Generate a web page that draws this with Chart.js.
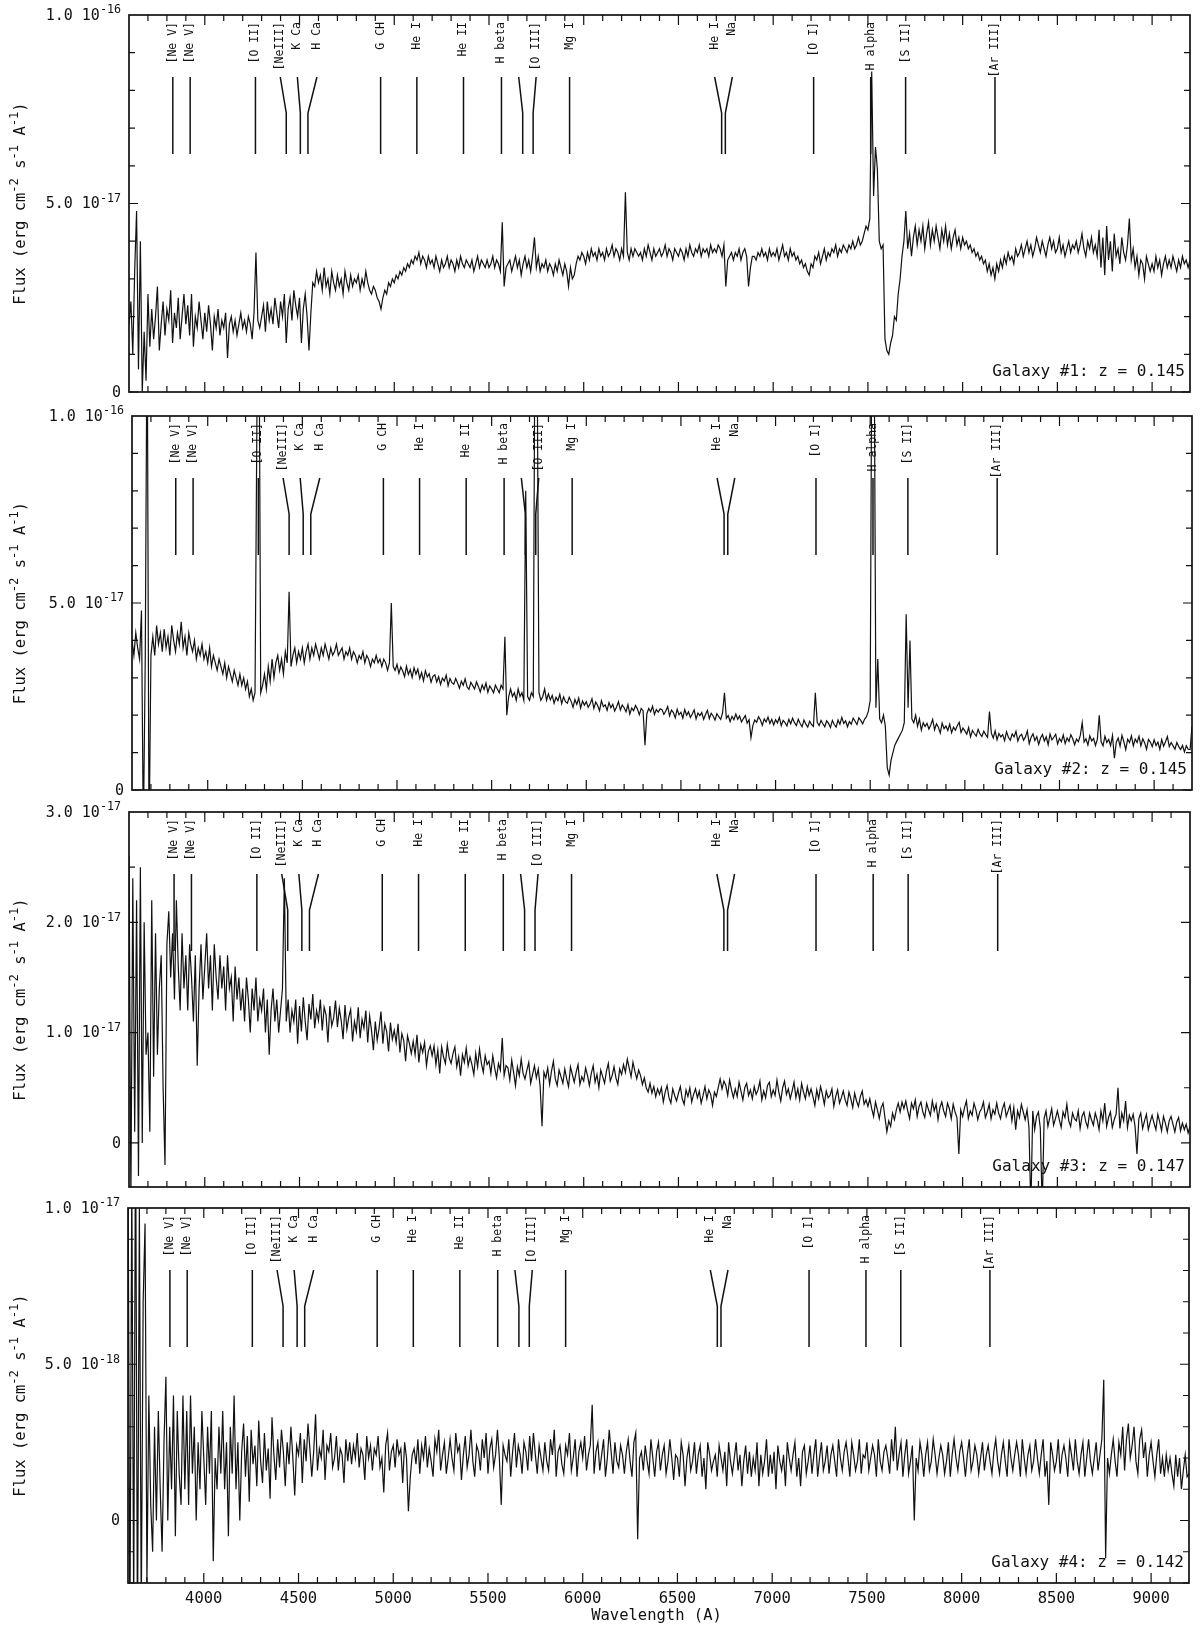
<!DOCTYPE html>
<html>
<head>
<meta charset="utf-8">
<title>Galaxy spectra</title>
<script src="https://cdn.jsdelivr.net/npm/chart.js@4.4.1/dist/chart.umd.min.js"></script>
<style>
    body { margin: 0; background: #fff; }
    #wrap { position: relative; width: 1200px; height: 1628px; }
    #wrap canvas { position: absolute; left: 0; top: 0; }
</style>
</head>
<body>
<div id="wrap"></div>
<script>
// wavelength sampling of the spectra (Angstrom)
const WAVE_START = 3600
const WAVE_STEP = 10

// flux values, in units of 1e-18 erg cm^-2 s^-1 A^-1, one row = 100 A
const FLUX_G1 = [
    18, 24, 10, 32, 48, 6, 40, 0, 16, 3,          // 3600
    26, 12, 22, 14, 20, 28, 11, 18, 24, 15,
    22, 19, 27, 13, 21, 17, 25, 14, 20, 26,
    18, 23, 15, 26, 12, 20, 17, 24, 19, 14,
    21, 16, 23, 18, 11, 20, 17, 22, 15, 19,       // 4000
    17, 21, 9, 18, 20, 16, 19, 15, 18, 21,
    17, 19, 16, 20, 18, 14, 21, 37, 19, 17,
    20, 23, 16, 24, 19, 22, 18, 25, 21, 17,
    24, 20, 26, 13, 22, 25, 19, 27, 23, 20,
    25, 13, 22, 26, 20, 11, 21, 29, 28, 32,       // 4500
    29, 31, 27, 33, 28, 30, 26, 32, 29, 27,
    31, 28, 30, 26, 32, 29, 27, 31, 28, 30,
    29, 31, 27, 30, 28, 32, 29, 27, 26, 28,
    27, 25, 24, 22, 25, 27, 26, 29, 28, 30,
    29, 31, 30, 32, 31, 33, 32, 34, 33, 35,       // 5000
    34, 36, 35, 37, 34, 36, 35, 33, 36, 34,
    35, 33, 36, 34, 32, 35, 33, 34, 36, 33,
    35, 34, 32, 35, 33, 36, 34, 33, 35, 34,
    33, 35, 32, 34, 36, 33, 35, 34, 33, 35,
    33, 34, 36, 33, 35, 34, 32, 45, 28, 33,       // 5500
    34, 35, 32, 34, 36, 33, 35, 31, 34, 36,
    33, 35, 32, 36, 41, 33, 36, 32, 34, 33,
    35, 32, 34, 33, 31, 34, 32, 35, 33, 31,
    34, 32, 28, 33, 30, 31, 34, 36, 35, 37,
    36, 34, 37, 35, 38, 36, 37, 35, 38, 36,       // 6000
    37, 35, 38, 36, 37, 39, 36, 38, 37, 35,
    38, 36, 53, 37, 35, 38, 36, 38, 37, 36,
    37, 35, 38, 36, 39, 37, 35, 38, 36, 37,
    38, 36, 37, 39, 36, 38, 37, 35, 38, 37,
    36, 38, 37, 35, 38, 36, 39, 37, 36, 38,       // 6500
    37, 39, 36, 38, 37, 38, 36, 39, 37, 38,
    37, 39, 38, 36, 39, 28, 35, 36, 37, 35,
    37, 36, 38, 35, 37, 38, 36, 28, 33, 36,
    36, 35, 37, 36, 38, 36, 37, 35, 38, 36,
    37, 36, 38, 35, 37, 39, 36, 37, 35, 38,       // 7000
    36, 37, 35, 36, 34, 35, 33, 34, 32, 31,
    34, 33, 36, 35, 37, 34, 36, 38, 35, 37,
    36, 38, 37, 39, 36, 38, 37, 39, 38, 37,
    39, 38, 40, 38, 39, 41, 39, 40, 42, 44,
    43, 46, 85, 52, 65, 59, 40, 38, 39, 14,       // 7500
    11, 10, 13, 15, 20, 19, 26, 30, 36, 40,
    48, 38, 42, 36, 41, 44, 39, 43, 40, 44,
    38, 42, 45, 39, 43, 40, 44, 41, 38, 43,
    40, 44, 39, 42, 38, 41, 43, 39, 41, 38,
    41, 39, 40, 38, 39, 37, 38, 36, 37, 35,       // 8000
    36, 34, 35, 32, 34, 31, 33, 30, 34, 32,
    35, 33, 36, 34, 37, 35, 36, 34, 38, 36,
    37, 39, 36, 38, 40, 37, 39, 36, 38, 41,
    39, 37, 40, 38, 36, 39, 41, 38, 40, 37,
    38, 41, 37, 39, 36, 38, 40, 37, 39, 38,       // 8500
    40, 37, 39, 42, 38, 36, 40, 38, 41, 37,
    39, 36, 43, 33, 41, 31, 44, 35, 40, 32,
    42, 36, 38, 34, 41, 37, 35, 39, 46, 35,
    38, 33, 36, 31, 35, 34, 30, 36, 34, 32,
    34, 32, 36, 33, 35, 31, 34, 36, 33, 35,       // 9000
    33, 36, 34, 32, 35, 33, 36, 34, 35, 33,
    35
]

const FLUX_G2 = [
    40, 36, 42, 38, 35, 48, -12, 35, 130, -15,    // 3600
    36, 41, 36, 44, 39, 42, 37, 43, 38, 41,
    36, 44, 40, 37, 42, 39, 45, 38, 41, 36,
    42, 39, 37, 40, 35, 38, 36, 39, 35, 37,
    34, 38, 33, 36, 34, 32, 35, 33, 31, 34,       // 4000
    30, 33, 31, 29, 32, 30, 28, 31, 28, 30,
    27, 29, 25, 27, 24, 26, 100, 140, 26, 28,
    31, 27, 33, 29, 35, 30, 34, 36, 32, 35,
    31, 37, 34, 53, 33, 36, 38, 34, 37, 35,
    38, 34, 37, 39, 35, 38, 36, 39, 37, 35,       // 4500
    38, 36, 39, 37, 35, 38, 36, 37, 39, 36,
    37, 38, 35, 37, 36, 38, 35, 37, 36, 34,
    36, 35, 37, 34, 36, 35, 33, 35, 34, 36,
    34, 35, 33, 35, 34, 32, 34, 50, 33, 32,
    33.6, 31.2, 32.9, 31.8, 30.3, 33.1, 30.9, 32.2, 30.1, 32.7,   // 5000
    31.0, 32.3, 29.8, 31.4, 29.2, 31.9, 30.2, 31.1, 28.8, 30.4,
    30.8, 28.9, 30.3, 28.2, 29.9, 29.1, 30.7, 27.9, 29.8, 28.7,
    28.3, 29.8, 28.6, 27.2, 29.1, 28.0, 29.7, 27.6, 26.9, 28.8,
    27.9, 27.0, 28.9, 27.7, 26.2, 28.1, 26.9, 28.6, 26.1, 27.8,
    27, 26, 28, 27, 26, 28, 27, 41, 20, 25,       // 5500
    27, 25, 26, 24, 27, 25, 26, 24, 80, 25,
    24, 26, 25, 140, 120, 26, 24, 25, 27, 24,
    25.7, 24.1, 25.3, 23.2, 24.8, 23.9, 25.6, 23.1, 24.9, 23.6,
    23.2, 24.8, 23.7, 22.1, 24.2, 22.9, 24.6, 21.9, 23.8, 22.7,
    23.6, 22.1, 23.0, 24.4, 21.8, 23.5, 22.6, 21.2, 23.9, 22.3,   // 6000
    22.8, 21.3, 23.4, 22.0, 22.9, 21.1, 22.2, 23.6, 21.4, 22.7,
    22.0, 20.9, 22.8, 20.3, 21.9, 21.2, 22.6, 21.7, 20.1, 21.8,
    21.2, 12.0, 20.4, 21.8, 20.9, 22.4, 20.2, 21.5, 20.8, 21.7,
    21.5, 20.2, 21.1, 22.3, 19.8, 21.4, 20.7, 19.3, 21.6, 20.1,
    20.8, 19.2, 21.5, 20.0, 20.9, 19.4, 20.3, 21.4, 19.0, 20.6,   // 6500
    19.9, 20.7, 18.9, 20.2, 21.3, 19.1, 20.5, 19.8, 18.7, 20.4,
    19.6, 18.9, 20.6, 26.0, 19.2, 19.9, 18.3, 19.7, 18.8, 20.3,
    18.9, 19.8, 18.2, 19.1, 19.9, 17.9, 18.8, 14.0, 17.2, 18.7,
    18.1, 19.6, 18.7, 17.3, 19.0, 18.2, 19.5, 17.8, 18.9, 17.4,
    18.8, 17.9, 19.4, 17.2, 18.6, 18.0, 17.1, 18.9, 17.7, 19.2,   // 7000
    18.0, 17.2, 18.9, 17.8, 16.9, 18.7, 17.6, 16.8, 18.4, 17.5,
    17.0, 26.0, 18.1, 17.2, 18.6, 17.7, 16.9, 18.5, 17.8, 16.7,
    18.6, 17.5, 16.8, 18.7, 17.6, 19.4, 17.8, 18.5, 16.9, 18.3,
    17.6, 19.2, 18.4, 17.5, 19.3, 18.6, 17.7, 18.9, 19.6, 21.0,
    24, 140, 130, 22, 35, 19, 18, 20, 17, 6,      // 7500
    4, 8, 10, 12, 13, 14, 15, 16, 18, 47,
    22, 40, 19, 18, 20, 17, 19, 16, 18, 17,
    17.8, 16.3, 17.4, 18.9, 16.1, 17.7, 16.8, 15.2, 17.9, 16.4,
    17.1, 15.9, 17.6, 15.3, 16.8, 16.0, 17.2, 18.1, 15.4, 16.6,
    15.8, 14.9, 16.7, 14.2, 15.9, 15.1, 14.4, 16.2, 15.0, 14.3,   // 8000
    15.7, 14.8, 14.1, 21.0, 15.2, 13.9, 15.8, 13.4, 15.1, 14.2,
    14.8, 13.2, 15.6, 14.1, 13.3, 15.0, 14.2, 15.7, 13.1, 14.4,
    14.9, 13.3, 14.2, 15.8, 12.4, 14.1, 15.0, 13.2, 14.3, 12.2,
    13.9, 14.8, 13.1, 14.2, 12.1, 15.0, 13.4, 14.1, 14.9, 12.3,
    13.8, 12.9, 14.7, 12.4, 13.9, 13.0, 14.8, 13.7, 12.1, 13.6,   // 8500
    12.9, 14.6, 18.0, 12.8, 13.7, 12.0, 14.5, 13.1, 13.8, 11.9,
    13.6, 20.0, 12.9, 11.8, 14.4, 12.7, 13.5, 11.9, 14.6, 8.5,
    12.8, 13.9, 11.7, 14.6, 12.9, 10.8, 13.6, 12.7, 14.5, 11.8,
    13.6, 12.7, 14.4, 11.8, 13.7, 12.6, 10.9, 13.5, 12.8, 11.6,
    13.4, 11.9, 12.8, 10.9, 13.5, 11.7, 12.9, 14.3, 11.6, 12.7,   // 9000
    11.8, 10.9, 12.7, 11.6, 10.8, 11.9, 10.2, 11.8, 10.9, 10.8,
    17
]

const FLUX_G3 = [
    26, -5, 24, 1, 22, -3, 25, 0, 20, 8,          // 3600
    10, 1, 22, 6, 19, 8, 14, 17, 5, -2,
    18, 21, 15, 19, 13, 22, 16, 12, 19, 14,
    17, 12, 18, 15, 11, 17, 7, 14, 18, 13,
    16, 19, 14, 17, 12, 18, 15, 13, 17, 14,       // 4000
    16, 12, 17, 14, 15, 11, 16, 13, 15, 12,
    14, 11, 15, 13, 10, 14, 12, 15, 11, 13,
    12, 14, 10, 13, 8, 12, 14, 11, 13, 10,
    12, 14, 24, 11, 13, 10, 12, 11, 13, 9,
    12.4, 10.1, 13.2, 11.0, 9.3, 12.6, 11.2, 13.5, 10.4, 12.0,   // 4500
    11.1, 13.0, 10.2, 12.3, 11.6, 9.1, 12.4, 10.6, 11.3, 12.9,
    10.5, 12.2, 11.1, 9.4, 12.5, 10.3, 11.4, 12.1, 9.2, 11.0,
    10.1, 12.3, 9.5, 11.2, 10.4, 12.0, 9.1, 11.5, 10.2, 8.4,
    11.0, 9.3, 10.4, 11.9, 9.0, 10.8, 10.1, 8.3, 10.9, 9.4,
    10.2, 9.1, 10.8, 8.2, 9.9, 9.3, 7.4, 9.7, 9.0, 8.1,          // 5000
    9.2, 8.0, 9.8, 7.3, 8.9, 8.2, 9.1, 7.0, 8.3, 8.8,
    7.9, 8.8, 7.1, 8.4, 6.3, 8.7, 7.8, 7.2, 8.9, 7.7,
    7.2, 8.1, 8.7, 6.9, 7.8, 6.1, 8.0, 7.3, 8.6, 7.0,
    7.8, 7.1, 6.2, 8.1, 6.9, 8.5, 7.2, 6.4, 7.9, 7.1,
    7.4, 6.3, 7.9, 6.8, 5.9, 7.2, 6.6, 9.5, 6.1, 7.0,            // 5500
    6.8, 5.7, 7.5, 6.4, 5.2, 6.9, 6.1, 7.6, 6.3, 5.8,
    6.6, 7.3, 5.4, 6.2, 7.0, 5.9, 6.7, 5.1, 1.5, 6.4,
    5.9, 6.8, 5.3, 6.5, 7.4, 5.8, 5.2, 6.6, 6.0, 5.4,
    6.7, 5.8, 5.1, 6.9, 6.2, 5.5, 6.4, 7.1, 5.3, 6.0,
    5.6, 6.8, 6.1, 5.2, 6.3, 7.0, 5.5, 6.2, 5.0, 6.6,            // 6000
    6.0, 5.4, 6.5, 7.2, 5.6, 6.1, 6.9, 5.9, 5.3, 6.7,
    6.2, 7.1, 6.4, 7.6, 6.8, 6.0, 7.3, 6.5, 5.8, 6.6,
    6.1, 5.3, 5.9, 5.0, 4.6, 5.4, 4.5, 5.1, 4.2, 4.9,
    4.4, 5.0, 3.7, 4.6, 5.2, 4.1, 3.6, 4.9, 4.3, 3.8,
    4.5, 5.1, 4.0, 3.5, 4.8, 4.2, 5.0, 3.7, 4.4, 4.9,            // 6500
    4.1, 4.7, 3.6, 4.3, 5.1, 4.0, 4.8, 4.4, 3.4, 4.6,
    4.2, 5.0, 5.8, 4.9, 5.6, 5.2, 4.3, 5.7, 4.8, 4.1,
    4.9, 4.2, 5.5, 4.7, 3.9, 5.0, 5.4, 4.3, 4.8, 4.0,
    5.1, 4.4, 4.8, 5.6, 3.9, 4.7, 4.1, 5.2, 5.5, 4.2,
    4.8, 4.3, 5.7, 4.6, 3.8, 5.0, 5.6, 4.4, 4.9, 4.0,            // 7000
    4.7, 5.5, 4.1, 4.9, 3.9, 5.4, 4.6, 4.0, 5.1, 4.3,
    4.9, 4.2, 3.4, 4.8, 4.0, 5.1, 4.4, 3.5, 4.7, 4.1,
    4.3, 4.9, 3.3, 4.2, 4.8, 3.6, 4.1, 4.7, 3.9, 3.4,
    4.6, 4.0, 3.2, 4.5, 3.8, 3.3, 4.2, 4.7, 3.5, 3.9,
    3.3, 4.0, 3.1, 2.4, 3.7, 3.0, 2.2, 3.2, 3.6, 2.3,            // 7500
    1.0, 2.0, 1.5, 2.7, 2.1, 3.0, 3.6, 2.8, 3.7, 3.1,
    3.8, 2.9, 2.2, 3.6, 3.1, 3.9, 2.4, 3.3, 3.7, 2.8,
    2.3, 3.6, 3.0, 2.5, 3.8, 2.9, 3.5, 2.1, 3.2, 3.7,
    2.9, 2.4, 3.6, 3.1, 2.2, 3.5, 2.8, 2.3, -1.0, 3.0,
    2.4, 3.2, 3.8, 2.2, 2.9, 2.5, 3.6, 3.0, 2.1, 2.8,            // 8000
    3.1, 3.7, 2.3, 2.8, 3.5, 2.2, 3.0, 2.6, 3.6, 2.7,
    2.2, 3.1, 3.6, 2.4, 2.9, 3.4, 2.0, 3.2, 1.2, 2.9,
    2.3, 3.5, 2.8, 2.1, 3.0, 1.4, -6, 2.9, 1.2, 2.4,
    2.8, 1.3, -6, 2.2, 2.9, 1.5, 2.3, 3.1, 1.6, 2.2,
    2.9, 2.1, 1.4, 2.8, 2.3, 3.5, 2.0, 1.5, 2.7, 2.2,            // 8500
    2.0, 2.9, 1.3, 2.4, 2.8, 1.9, 1.4, 2.7, 2.1, 1.6,
    2.7, 2.1, 1.2, 2.9, 2.0, 3.6, 1.5, 2.3, 2.8, 1.4,
    2.1, 2.6, 5.0, 1.3, 2.7, 2.0, 3.8, 1.4, 2.5, 2.0,
    2.6, 1.5, -1.0, 2.2, 2.7, 1.3, 2.0, 2.6, 1.2, 1.9,
    2.5, 1.8, 1.2, 2.6, 1.9, 1.1, 2.4, 1.8, 1.0, 2.0,            // 9000
    2.4, 1.7, 1.0, 1.9, 2.3, 1.1, 1.8, 1.2, 1.7, 0.9,
    1.5
]

const FLUX_G4 = [
    12, -4, 11, -3, 13, -4, 10, -3, 7, 9.5,       // 3600
    -2, 4, 0.5, -1, 3, 0, 3.5, 1, -1, 2.5,
    4.6, 0, 3, 1, 4, -0.5, 3.5, 1.5, 0.5, 4,
    1, 3.5, 0.5, 4, 1.5, 3, 0, 2.5, 1, 3.5,
    2, 0.5, 3, 1.5, 3.5, -1.3, 2, 1, 3, 1.5,      // 4000
    3.5, 1, 2.5, -0.5, 3, 1.5, 4, 1, 2.5, 0,
    2.2, 3.1, 1.4, 2.7, 0.6, 2.9, 1.8, 2.4, 1.1, 3.2,
    1.9, 1.2, 2.8, 1.6, 2.3, 0.7, 3.3, 2.1, 1.3, 2.6,
    1.7, 2.9, 2.2, 1.1, 2.5, 1.8, 3.0, 2.0, 0.8, 2.4,
    2.1, 2.8, 1.2, 2.6, 1.9, 3.1, 2.3, 1.4, 2.2, 3.4,   // 4500
    1.6, 2.3, 2.0, 2.9, 1.3, 2.4, 2.2, 2.8, 1.7, 2.0,
    2.7, 1.6, 2.3, 2.1, 1.2, 2.6, 1.9, 2.5, 1.8, 2.4,
    2.0, 2.8, 1.7, 2.3, 2.1, 1.3, 2.7, 2.0, 2.4, 1.6,
    2.3, 2.1, 2.7, 1.7, 2.0, 0.9, 2.4, 2.8, 1.6, 2.2,
    2.4, 1.7, 2.6, 2.1, 2.3, 1.2, 2.5, 2.0, 0.3, 1.4,   // 5000
    2.1, 2.3, 1.8, 2.6, 1.5, 2.4, 2.0, 2.7, 1.7, 2.3,
    1.9, 1.4, 2.6, 2.2, 2.9, 1.6, 2.1, 2.5, 1.5, 2.0,
    2.6, 2.0, 1.6, 2.8, 2.2, 2.4, 1.3, 2.1, 2.7, 1.7,
    2.1, 2.9, 1.9, 1.4, 2.4, 2.2, 1.6, 2.6, 2.0, 2.8,
    1.5, 2.3, 2.6, 1.7, 2.1, 2.9, 2.0, 0.5, 2.4, 2.1,   // 5500
    1.9, 2.6, 1.4, 2.2, 2.8, 1.7, 2.4, 2.1, 1.5, 2.5,
    2.2, 1.6, 2.7, 1.9, 2.8, 2.1, 1.5, 2.4, 2.0, 1.6,
    2.5, 1.9, 1.6, 2.6, 2.1, 2.9, 1.4, 2.2, 2.4, 1.8,
    1.5, 2.4, 2.1, 2.8, 1.6, 2.0, 2.6, 1.4, 2.2, 2.5,
    2.0, 2.7, 1.6, 2.1, 2.4, 3.7, 1.5, 2.2, 2.5, 1.6,   // 6000
    2.1, 2.6, 1.4, 2.0, 2.9, 2.2, 1.5, 2.5, 1.9, 1.7,
    2.4, 2.1, 1.5, 2.2, 2.6, 1.9, 1.4, 2.5, 2.8, -0.6,
    2.0, 2.2, 1.6, 2.4, 1.9, 1.5, 2.6, 2.0, 1.4, 2.2,
    2.5, 1.6, 2.1, 2.4, 1.5, 1.9, 2.6, 2.0, 1.3, 2.1,
    2.0, 1.4, 2.5, 2.1, 1.1, 2.0, 2.4, 1.6, 1.9, 2.5,   // 6500
    1.5, 2.1, 2.4, 1.4, 2.0, 1.0, 2.5, 2.1, 1.6, 1.9,
    2.1, 1.4, 2.4, 2.0, 1.6, 2.2, 1.1, 2.5, 1.9, 1.5,
    2.0, 2.5, 1.6, 2.1, 1.1, 1.9, 2.4, 1.5, 2.2, 1.4,
    2.0, 1.6, 2.5, 1.1, 2.1, 1.5, 1.9, 2.6, 1.4, 2.1,
    1.5, 2.2, 1.0, 2.4, 1.9, 1.6, 2.1, 1.1, 2.5, 2.0,   // 7000
    1.6, 2.1, 2.5, 1.4, 2.0, 1.1, 2.2, 2.4, 1.5, 1.9,
    2.4, 1.5, 2.1, 2.6, 1.4, 2.0, 2.5, 1.6, 1.9, 2.4,
    1.5, 2.1, 2.4, 1.9, 1.4, 2.6, 2.0, 1.6, 2.2, 2.5,
    2.0, 1.4, 2.5, 2.1, 1.6, 1.9, 2.6, 1.5, 2.1, 2.0,
    2.5, 1.6, 2.0, 2.4, 2.1, 1.4, 2.6, 1.9, 1.6, 2.2,   // 7500
    2.4, 2.0, 1.5, 2.6, 1.9, 3.0, 1.6, 2.1, 2.5, 1.4,
    2.1, 2.6, 1.5, 1.9, 2.4, 0.0, 2.0, 1.6, 2.5, 2.1,
    1.4, 2.1, 2.5, 1.6, 1.9, 2.6, 2.1, 1.5, 2.0, 2.4,
    2.1, 1.5, 1.9, 2.5, 1.4, 2.1, 2.6, 2.0, 1.6, 2.2,
    2.5, 2.0, 1.4, 2.1, 2.6, 1.6, 1.9, 2.4, 2.1, 1.5,   // 8000
    2.0, 2.5, 1.6, 2.1, 2.4, 1.9, 1.5, 2.2, 2.6, 1.9,
    1.5, 2.1, 2.5, 1.9, 1.4, 2.6, 2.0, 1.6, 2.1, 2.5,
    2.1, 1.4, 2.6, 2.0, 1.5, 2.1, 2.4, 1.6, 1.9, 2.6,
    2.0, 1.5, 2.1, 2.6, 1.4, 1.9, 0.5, 2.5, 2.1, 1.6,
    1.9, 2.6, 1.5, 2.1, 2.4, 2.0, 1.4, 2.5, 2.1, 1.6,   // 8500
    2.6, 1.9, 1.5, 2.1, 2.5, 1.4, 2.0, 2.6, 1.9, 1.5,
    2.0, 2.5, 1.6, 2.1, 2.6, 4.5, -1.2, 2.0, 1.5, 2.1,
    2.6, 1.9, 1.4, 2.5, 2.1, 3.0, 1.6, 2.6, 3.1, 2.0,
    2.4, 3.0, 1.9, 1.5, 2.6, 2.9, 2.0, 2.5, 1.4, 2.1,
    2.5, 1.9, 1.4, 2.1, 2.6, 1.5, 2.0, 1.4, 2.1, 1.6,   // 9000
    2.0, 1.5, 1.1, 2.1, 1.4, 2.0, 1.0, 1.6, 2.1, 1.4,
    1.5
]

// line identifications: rest wavelengths and names
const REST_WAVES = [3346, 3426, 3727, 3869, 3934, 3969, 4304, 4471, 4686, 4861,
                    4959, 5007, 5175, 5876, 5893, 6300, 6563, 6724, 7136]
const LINE_NAMES = ['[Ne V]', '[Ne V]', '[O II]', '[NeIII]', 'K Ca', 'H Ca', 'G CH', 'He I', 'He II', 'H beta',
                    '', '[O III]', 'Mg I', 'He I', 'Na', '[O I]', 'H alpha', '[S II]', '[Ar III]']
const LABEL_SHIFT = [0, 0, 0, -6, -3, 9, 0, 0, 0, 0, -4, 3, 0, -7, 7, 0, 0, 0, 0]

const REDSHIFTS = [0.145, 0.145, 0.147, 0.142]
const GALAXY_LABELS = ['Galaxy #1: z = 0.145', 'Galaxy #2: z = 0.145', 'Galaxy #3: z = 0.147', 'Galaxy #4: z = 0.142']

// axis ticks
const X_MIN = 3600, X_MAX = 9200
const X_TICKS = [4000, 4500, 5000, 5500, 6000, 6500, 7000, 7500, 8000, 8500, 9000]
const Y_TICKS_BRIGHT = [0, 50, 100]
const Y_LABELS_BRIGHT = ['0', '5.0 10^-17', '1.0 10^-16']
const Y_TICKS_G3 = [0, 10, 20, 30]
const Y_LABELS_G3 = ['0', '1.0 10^-17', '2.0 10^-17', '3.0 10^-17']
const Y_TICKS_G4 = [0, 5, 10]
const Y_LABELS_G4 = ['0', '5.0 10^-18', '1.0 10^-17']

const Y_TITLE = 'Flux (erg cm^-2^ s^-1^ A^-1^)'
const X_TITLE = 'Wavelength (A)'

const FONT = '"DejaVu Sans Mono", "Liberation Mono", monospace'
const INK = '#111'

const panels = [
    { flux: FLUX_G1, box: [129, 15, 1190, 392], yMin: 0, yMax: 100, minor: 10, major: 50, ticks: Y_TICKS_BRIGHT, labels: Y_LABELS_BRIGHT },
    { flux: FLUX_G2, box: [132, 416, 1192, 790], yMin: 0, yMax: 100, minor: 10, major: 50, ticks: Y_TICKS_BRIGHT, labels: Y_LABELS_BRIGHT },
    { flux: FLUX_G3, box: [129, 812, 1190, 1187], yMin: -4, yMax: 30, minor: 5, major: 10, ticks: Y_TICKS_G3, labels: Y_LABELS_G3 },
    { flux: FLUX_G4, box: [128, 1208, 1189, 1583], yMin: -2, yMax: 10, minor: 1, major: 5, ticks: Y_TICKS_G4, labels: Y_LABELS_G4 }
]

// text with ^superscript^ parts
function drawSup(ctx, text, x, y, align, size) {
    const parts = text.split('^')
    const supSize = size * 0.78
    const widths = parts.map((t, i) => {
        ctx.font = (i % 2 ? supSize : size) + 'px ' + FONT
        return ctx.measureText(t).width
    })
    const total = widths.reduce((a, b) => a + b, 0)
    let cx = align === 'right' ? x - total : align === 'center' ? x - total / 2 : x
    ctx.textAlign = 'left'
    parts.forEach((t, i) => {
        ctx.font = (i % 2 ? supSize : size) + 'px ' + FONT
        ctx.fillText(t, cx, i % 2 ? y - size * 0.38 : y)
        cx += widths[i]
    })
}

function panelPlugin(p, idx) {
    return {
        id: 'panel' + idx,
        afterDatasetsDraw(chart) {
            const ctx = chart.ctx
            const xs = chart.scales.x
            const ys = chart.scales.y
            const a = chart.chartArea
            ctx.save()
            ctx.strokeStyle = INK
            ctx.fillStyle = INK

            // identification lines
            ctx.lineWidth = 1.5
            ctx.font = '11.5px ' + FONT
            REST_WAVES.forEach((rest, i) => {
                const px = xs.getPixelForValue(rest * (1 + REDSHIFTS[idx]))
                const lx = px + LABEL_SHIFT[i]
                ctx.beginPath()
                ctx.moveTo(lx, a.top + 62)
                ctx.lineTo(px, a.top + 98)
                ctx.lineTo(px, a.top + 139)
                ctx.stroke()
                if (LINE_NAMES[i]) {
                    ctx.save()
                    ctx.translate(lx, a.top + 7)
                    ctx.rotate(-Math.PI / 2)
                    ctx.textAlign = 'right'
                    ctx.textBaseline = 'middle'
                    ctx.fillText(LINE_NAMES[i], 0, 0)
                    ctx.restore()
                }
            })

            // frame
            ctx.lineWidth = 1.7
            ctx.strokeRect(a.left, a.top, a.right - a.left, a.bottom - a.top)

            // ticks on all four sides
            ctx.lineWidth = 1.2
            ctx.beginPath()
            for (let w = X_MIN + 100; w < X_MAX; w += 100) {
                const px = xs.getPixelForValue(w)
                const len = w % 500 === 0 ? 10 : 6
                ctx.moveTo(px, a.bottom); ctx.lineTo(px, a.bottom - len)
                ctx.moveTo(px, a.top); ctx.lineTo(px, a.top + len)
            }
            for (let v = Math.ceil(p.yMin / p.minor) * p.minor; v < p.yMax; v += p.minor) {
                const py = ys.getPixelForValue(v)
                const len = v % p.major === 0 ? 9 : 6
                ctx.moveTo(a.left, py); ctx.lineTo(a.left + len, py)
                ctx.moveTo(a.right, py); ctx.lineTo(a.right - len, py)
            }
            ctx.stroke()

            // y tick labels
            ctx.textBaseline = 'middle'
            p.ticks.forEach((v, i) => {
                drawSup(ctx, p.labels[i], a.left - 8, ys.getPixelForValue(v) + 1, 'right', 15)
            })

            // y title
            ctx.save()
            ctx.translate(21, (a.top + a.bottom) / 2)
            ctx.rotate(-Math.PI / 2)
            ctx.textBaseline = 'middle'
            drawSup(ctx, Y_TITLE, 0, 0, 'center', 15.5)
            ctx.restore()

            // galaxy label
            ctx.font = '16px ' + FONT
            ctx.textAlign = 'right'
            ctx.textBaseline = 'alphabetic'
            ctx.fillText(GALAXY_LABELS[idx], a.right - 5, a.bottom - 16)

            // x axis labels under the last panel
            if (idx === panels.length - 1) {
                ctx.font = '15.5px ' + FONT
                ctx.textAlign = 'center'
                ctx.textBaseline = 'middle'
                X_TICKS.forEach(w => ctx.fillText(String(w), xs.getPixelForValue(w), a.bottom + 16))
                ctx.fillText(X_TITLE, (a.left + a.right) / 2 - 2, a.bottom + 33)
            }
            ctx.restore()
        }
    }
}

function renderPanels() {
    const wrap = document.getElementById('wrap')
    panels.forEach((p, idx) => {
        const canvas = document.createElement('canvas')
        canvas.width = 1200
        canvas.height = 1628
        wrap.appendChild(canvas)
        const points = p.flux.map((f, i) => ({ x: WAVE_START + i * WAVE_STEP, y: f }))
        new Chart(canvas.getContext('2d'), {
            type: 'line',
            data: {
                datasets: [{
                    data: points,
                    borderColor: INK,
                    borderWidth: 1.2,
                    pointRadius: 0,
                    tension: 0,
                    fill: false
                }]
            },
            options: {
                responsive: false,
                animation: false,
                devicePixelRatio: 1,
                layout: {
                    padding: { left: p.box[0], top: p.box[1], right: 1200 - p.box[2], bottom: 1628 - p.box[3] }
                },
                plugins: { legend: { display: false }, tooltip: { enabled: false } },
                scales: {
                    x: { type: 'linear', min: X_MIN, max: X_MAX, display: false },
                    y: { type: 'linear', min: p.yMin, max: p.yMax, display: false }
                }
            },
            plugins: [panelPlugin(p, idx)]
        })
    })
}

renderPanels()
</script>
</body>
</html>
